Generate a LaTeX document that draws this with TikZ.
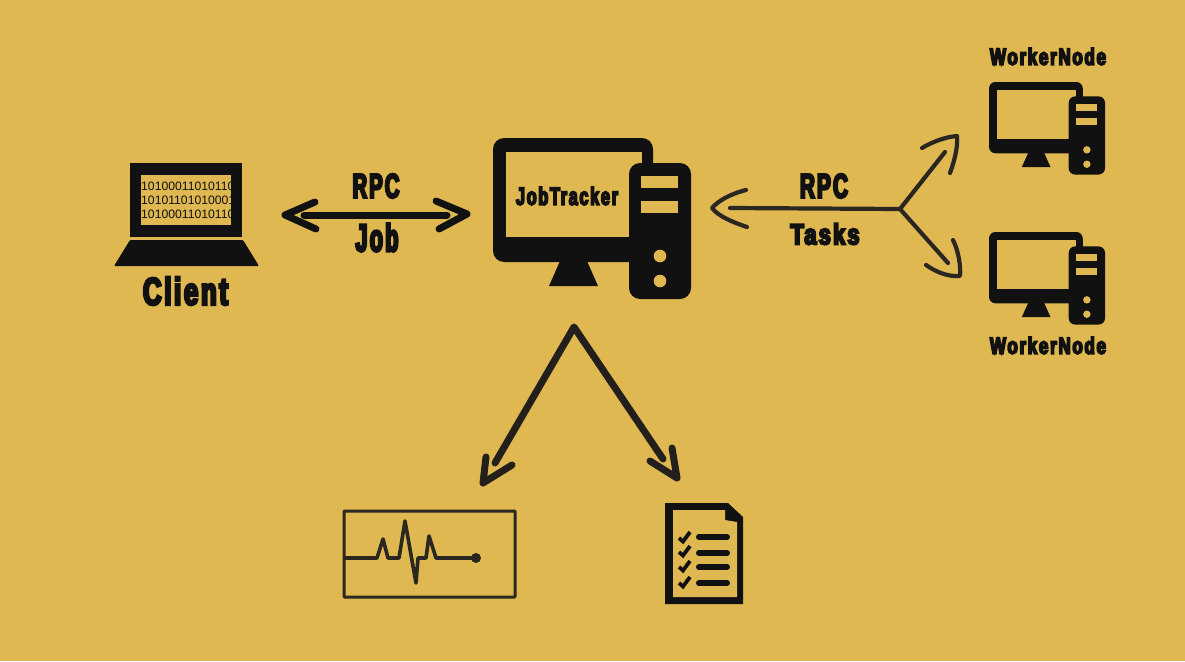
\documentclass[tikz,border=0pt]{standalone}
\usepackage{fontspec}
\usepackage{graphicx}
\newfontfamily\impact[FakeStretch=0.68,FakeBold=6.5,LetterSpace=7]{Liberation Sans Bold}
\newfontfamily\bits{Liberation Sans}
\definecolor{bg}{HTML}{DFB851}
\definecolor{ink}{HTML}{111111}
\definecolor{linegray}{HTML}{2A2620}
\newcommand{\lbl}[3]{\resizebox{#1pt}{#2pt}{\impact #3}}
\tikzset{
  lab/.style={inner sep=0pt,outer sep=0pt,text=ink},
  thickarrow/.style={draw=ink,line width=7pt,line cap=round,line join=round},
  midarrow/.style={draw=linegray!70!ink,line width=7pt,line cap=round,line join=round},
  thinarrow/.style={draw=linegray,line width=4.2pt,line cap=round,line join=round},
  solid ink/.style={fill=ink,draw=none},
  pics/computer/.style args={#1/#2}{code={
    % local coordinates follow the big computer, origin at its top-left
    \begin{scope}[xscale=#1,yscale=#2]
      \path[solid ink,rounded corners=#1*11pt] (0,0) rectangle (160,124);
      \path[fill=bg,draw=none] (13,14) rectangle (149,99);
      \path[solid ink,rounded corners=#1*11pt] (136,25) rectangle (198,161);
      \path[fill=bg] (148,38) rectangle (185,50);
      \path[fill=bg] (148,63) rectangle (185,75);
      \path[solid ink] (67,123) -- (94,123) -- (105,148) -- (56,148) -- cycle;
    \end{scope}
    \path[fill=bg] (#1*167,#2*118) circle (#1*6.3);
    \path[fill=bg] (#1*167,#2*143) circle (#1*6.3);
  }}
}
\begin{document}
\begin{tikzpicture}[x=1pt,y=-1pt]
\path[fill=bg] (0,0) rectangle (1185,661);
\useasboundingbox (0,0) rectangle (1185,661);

% ---- Client laptop
\path[solid ink] (130,163) rectangle (242,237);
\path[fill=bg] (141,175) rectangle (231,225);
\begin{scope}
  \clip (141,175) rectangle (231,225);
  \node[anchor=west,inner sep=0pt,text=ink,font=\bits\fontsize{12.2}{14}\selectfont,align=left] (bits) at (141,200)
    {10100011010110\\10101101010001\\10100011010110};
\end{scope}
\path[solid ink,rounded corners=1pt] (130,240) -- (243,240) -- (259,266) -- (114,266) -- cycle;
\node[lab] (client) at (185.5,291) {\lbl{85}{28}{Client}};

% ---- Client <-> JobTracker
\coordinate (jobL) at (285,215);
\coordinate (jobR) at (467,214);
\path[thickarrow] (304,215) -- (447,215);
\draw[thickarrow] (315,202) -- (jobL) -- (316,229);
\draw[thickarrow] (436,201) -- (jobR) -- (439,229);
\node[lab] (rpcA) at (376,186) {\lbl{47}{24}{RPC}};
\node[lab] (job) at (377,237.5) {\lbl{43}{28}{Job}};

% ---- JobTracker
\pic (jt) at (493,138) {computer=1/1};
\node[lab] (jobtracker) at (567,196) {\lbl{102}{18}{JobTracker}};

% ---- Workers
\pic (w1) at (989,82) {computer=0.586/0.575};
\pic (w2) at (989,232) {computer=0.586/0.575};
\node[lab] (worker1) at (1048,56.5) {\lbl{116}{17}{WorkerNode}};
\node[lab] (worker2) at (1048,345.5) {\lbl{116}{17}{WorkerNode}};

% ---- JobTracker <- fork -> Workers
\coordinate (fork) at (900,209);
\coordinate (tipJ) at (712,208);
\coordinate (tipU) at (957,136);
\coordinate (tipD) at (960,276);
\draw[thinarrow] (730,208) -- (fork);
\draw[thinarrow] (746,190) .. controls (730,194) and (718,201) .. (tipJ) .. controls (718,216) and (732,222) .. (747,227);
\draw[thinarrow] (fork) -- (945,152);
\draw[thinarrow] (922,148) .. controls (932,142) and (945,137) .. (tipU) .. controls (958,148) and (954,162) .. (950,173);
\draw[thinarrow] (fork) -- (948,263);
\draw[thinarrow] (926,265) .. controls (936,272) and (948,277) .. (tipD) .. controls (961,265) and (958,250) .. (953,240);
\node[lab] (rpcB) at (824,186) {\lbl{48}{24}{RPC}};
\node[lab] (tasks) at (825,234) {\lbl{69}{21}{Tasks}};

% ---- JobTracker -> monitor / report
\coordinate (apex) at (574,327);
\coordinate (endM) at (495,463);
\coordinate (endR) at (663,459);
\coordinate (tipM) at (483,483);
\coordinate (tipR) at (677,478);
\draw[midarrow] (endM) -- (apex) -- (endR);
\draw[midarrow] (486,457) -- (tipM) -- (512,465);
\draw[midarrow] (650,461) -- (tipR) -- (672,448);

% ---- Monitor panel
\draw[draw=linegray,line width=3pt,rounded corners=0.8pt] (344,511) rectangle (515,597);
\draw[draw=linegray,line width=3.6pt,line join=round]
  (344,558) -- (377,558) -- (383,539) -- (388,558) -- (399,558) -- (405,521)
  -- (416,583) -- (418,558) -- (426,558) -- (429,536) -- (436,558) -- (476,558);
\path[fill=linegray] (476,558) circle (5);

% ---- Report document
\path[solid ink] (665,503) -- (728,503) -- (743,517) -- (743,604) -- (665,604) -- cycle;
\path[fill=bg] (673,510) -- (725,510) -- (725,520) -- (737,522) -- (737,597) -- (673,597) -- cycle;
\foreach \yy/\cy in {537/538,553/552,567/567,583/583}{
  \draw[draw=ink,line width=6pt,line cap=round] (699,\yy) -- (727,\yy);
  \draw[draw=ink,line width=3.8pt] (679,\cy) -- (683,\cy+3.5) -- (690,\cy-6);
}
\end{tikzpicture}
\end{document}
